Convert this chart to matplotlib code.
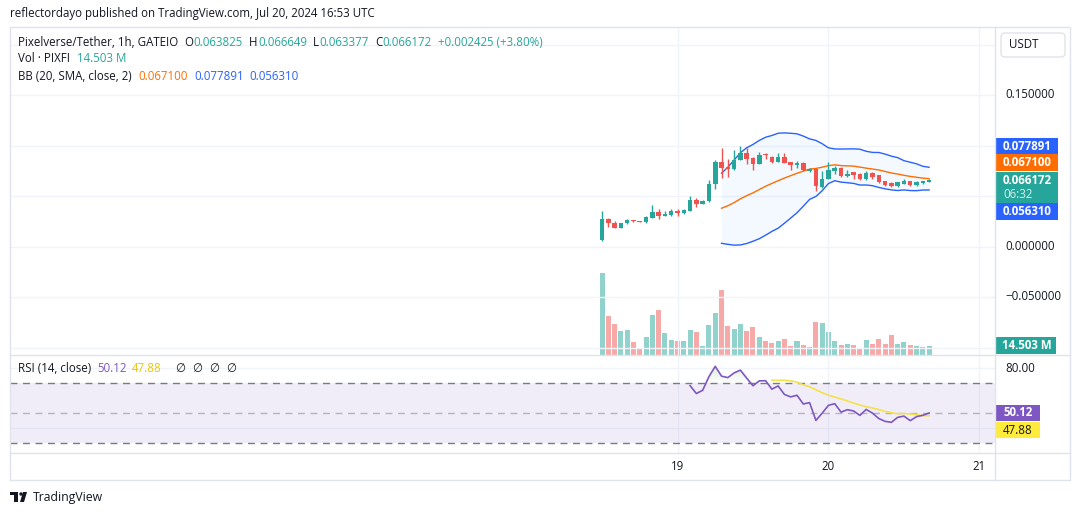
import numpy as np
import pandas as pd
import matplotlib
matplotlib.use("Agg")
import matplotlib.pyplot as plt
from matplotlib.patches import Rectangle, FancyBboxPatch, Polygon, Circle
from matplotlib.colors import LinearSegmentedColormap

# ---------------- data ----------------
times = pd.date_range("2024-07-18 12:00", periods=53, freq="h")
opens = [0.0060, 0.0274, 0.0232, 0.0188, 0.0228, 0.0264, 0.0254, 0.0238, 0.0284, 0.0344,
         0.0304, 0.0314, 0.0354, 0.0334, 0.0354, 0.0463, 0.0423, 0.0446, 0.0615, 0.0841,
         0.0791, 0.0764, 0.0854, 0.0923, 0.0881, 0.0814, 0.0911, 0.0891, 0.0841, 0.0891,
         0.0834, 0.0804, 0.0824, 0.0749, 0.0768, 0.0589, 0.0669, 0.0749, 0.0781, 0.0695,
         0.0735, 0.0715, 0.0665, 0.0725, 0.0705, 0.0645, 0.0629, 0.0595, 0.0622, 0.0645,
         0.0605, 0.0625, 0.063825]
highs = [0.0354, 0.0287, 0.0251, 0.0237, 0.0274, 0.0266, 0.0256, 0.0304, 0.0414, 0.0374,
         0.0354, 0.0374, 0.0374, 0.0374, 0.0503, 0.0483, 0.0463, 0.0662, 0.0858, 0.0980,
         0.0868, 0.0960, 0.0993, 0.0973, 0.0891, 0.0937, 0.0927, 0.0893, 0.0927, 0.0927,
         0.0836, 0.0851, 0.0834, 0.0778, 0.0770, 0.0745, 0.0841, 0.0794, 0.0791, 0.0761,
         0.0737, 0.0725, 0.0745, 0.0735, 0.0712, 0.0647, 0.0635, 0.0637, 0.0669, 0.0647,
         0.0645, 0.0647, 0.066649]
lows = [0.0058, 0.0195, 0.0186, 0.0186, 0.0226, 0.0246, 0.0243, 0.0236, 0.0282, 0.0277,
        0.0302, 0.0304, 0.0304, 0.0324, 0.0352, 0.0394, 0.0421, 0.0444, 0.0566, 0.0675,
        0.0685, 0.0754, 0.0852, 0.0818, 0.0754, 0.0812, 0.0868, 0.0828, 0.0839, 0.0822,
        0.0754, 0.0778, 0.0752, 0.0742, 0.0546, 0.0583, 0.0667, 0.0722, 0.0693, 0.0693,
        0.0669, 0.0663, 0.0663, 0.0669, 0.0633, 0.0603, 0.0593, 0.0593, 0.0620, 0.0603,
        0.0603, 0.0623, 0.063377]
closes = [0.0274, 0.0228, 0.0188, 0.0235, 0.0264, 0.0248, 0.0245, 0.0291, 0.0344, 0.0304,
          0.0324, 0.0354, 0.0334, 0.0364, 0.0463, 0.0423, 0.0453, 0.0622, 0.0841, 0.0774,
          0.0764, 0.0861, 0.0927, 0.0871, 0.0814, 0.0901, 0.0904, 0.0841, 0.0891, 0.0824,
          0.0804, 0.0824, 0.0754, 0.0768, 0.0595, 0.0669, 0.0761, 0.0781, 0.0695, 0.0722,
          0.0709, 0.0665, 0.0725, 0.0689, 0.0635, 0.0605, 0.0595, 0.0635, 0.0645, 0.0605,
          0.0635, 0.0645, 0.066172]
volumes_m = [128.3, 61.3, 48.8, 37.9, 39.5, 20.7, 9.8, 28.5, 62.8, 70.6,
             34.8, 23.9, 22.3, 22.3, 39.5, 36.3, 14.5, 47.3, 66.0, 101.8,
             45.7, 41.0, 48.8, 37.9, 44.1, 28.5, 22.3, 19.2, 22.3, 25.4,
             14.5, 22.3, 16.1, 12.9, 51.9, 50.4, 36.3, 22.3, 16.1, 17.6,
             16.1, 11.4, 23.9, 17.6, 25.4, 17.6, 31.7, 17.6, 20.7, 16.1,
             14.5, 12.9, 14.503]
price_ticks = [0.15, 0.0, -0.05]
day_ticks = ["2024-07-19", "2024-07-20", "2024-07-21"]
day_labels = ["19", "20", "21"]
# last values as printed by the chart's legend / price scale
bb_last = ["0.067100", "0.077891", "0.056310"]     # basis, upper, lower
rsi_last = ["50.12", "47.88"]                      # RSI, RSI-MA
vol_last = "14.503 M"
ohlc_last = ["0.063825", "0.066649", "0.063377", "0.066172"]
change_last = "+0.002425 (+3.80%)"

# ---------------- indicators ----------------
o = np.array(opens); h = np.array(highs); l = np.array(lows); c = np.array(closes)
vol = np.array(volumes_m)
cs = pd.Series(c)
basis = cs.rolling(20).mean()
sd = cs.rolling(20).std(ddof=0)
upper = basis + 2 * sd
lower = basis - 2 * sd

delta = np.diff(c, prepend=np.nan)
gain = np.where(delta > 0, delta, 0.0)
loss = np.where(delta < 0, -delta, 0.0)
n = 14
rsi = np.full(len(c), np.nan)
ag = al = None
for i in range(1, len(c)):
    if i == n:
        ag = gain[1:n + 1].mean(); al = loss[1:n + 1].mean()
    elif i > n:
        ag = (ag * (n - 1) + gain[i]) / n
        al = (al * (n - 1) + loss[i]) / n
    if i >= n:
        rsi[i] = 100 if al == 0 else 100 - 100 / (1 + ag / al)
rsi_ma = pd.Series(rsi).rolling(14).mean().values

# x in hours from Jul 19 00:00
t0 = pd.Timestamp("2024-07-19")
x = np.array((times - t0) / pd.Timedelta("1h"), dtype=float)
xt = [(pd.Timestamp(d) - t0) / pd.Timedelta("1h") for d in day_ticks]

# ---------------- figure ----------------
W, H = 1080, 515
fig = plt.figure(figsize=(W / 100, H / 100), dpi=100)
fig.patch.set_facecolor("white")
FONT = ["Open Sans", "DejaVu Sans"]
TXT = "#131722"
UP, DN = "#26A69A", "#EF5350"
GRID = "#F0F3FA"


def fax(x0, y0, x1, y1):
    return [x0 / W, 1 - y1 / H, (x1 - x0) / W, (y1 - y0) / H]


px_per_h = 6.29
x_origin = 677.5
xl = ((10 - x_origin) / px_per_h, (995 - x_origin) / px_per_h)

# main pane
ax = fig.add_axes(fax(10, 27, 995, 355))
ppu = 1010.0
ax.set_ylim((246.5 - 355) / ppu, (246.5 - 27) / ppu)
ax.set_xlim(*xl)
axv = ax.twinx()
axv.set_ylim(0, 328 * 14.503 / 9.3)
axv.set_xlim(*xl)
axv.set_zorder(0)
ax.set_zorder(1)
ax.patch.set_alpha(0)

for gy in [0.2, 0.15, 0.1, 0.05, 0.0, -0.05, -0.1]:
    ax.axhline(gy, color=GRID, lw=1, zorder=0)
for t in xt:
    ax.axvline(t, color=GRID, lw=1, zorder=0)

vcol = np.where(c >= o, "#92D2CC", "#F7A9A7")
axv.bar(x, vol, width=0.8, color=vcol, zorder=1)

ccol = np.where(c >= o, UP, DN)
ax.vlines(x, l, h, colors=ccol, lw=1, zorder=3)
body_lo = np.minimum(o, c)
body_h = np.maximum(np.abs(c - o), 0.0009)
ax.bar(x, body_h, bottom=body_lo, width=0.72, color=ccol, zorder=4)

ax.fill_between(x, lower, upper, color="#2196F3", alpha=0.05, lw=0, zorder=2)
ax.plot(x, upper, color="#2962FF", lw=1, zorder=2)
ax.plot(x, lower, color="#2962FF", lw=1, zorder=2)
ax.plot(x, basis, color="#FF6D00", lw=1, zorder=2)

for a in (ax, axv):
    a.set_xticks([]); a.set_yticks([])
    for s in a.spines.values():
        s.set_visible(False)

# RSI pane
ar = fig.add_axes(fax(10, 355, 995, 453))
ar.set_xlim(*xl)
ar.set_ylim(30 - 10 / 1.5, 80 + 13 / 1.5)
ar.axhspan(30, 70, color="#7E57C2", alpha=0.1, lw=0)
for gy in [80, 40]:
    ar.axhline(gy, color=GRID, lw=1, zorder=0)
for t in xt:
    ar.axvline(t, color=GRID, lw=1, zorder=0)
ar.axhline(70, color="#787B86", lw=1, ls=(0, (5, 4)))
ar.axhline(30, color="#787B86", lw=1, ls=(0, (5, 4)))
ar.axhline(50, color="#787B86", lw=1, ls=(0, (5, 4)), alpha=0.5)
poly = ar.fill_between(x, rsi, 70, where=(rsi > 70), interpolate=True, color="none", lw=0)
grad = np.linspace(0, 1, 100).reshape(-1, 1)
cmap = LinearSegmentedColormap.from_list("g", [(0.30, 0.69, 0.31, 0.0), (0.30, 0.69, 0.31, 0.35)])
im = ar.imshow(grad, extent=[xl[0], xl[1], 70, 88.67], origin="lower", cmap=cmap,
               aspect="auto", zorder=1)
paths = poly.get_paths()
if len(paths):
    im.set_clip_path(paths[0], transform=ar.transData)
ar.plot(x, rsi, color="#7E57C2", lw=1.2, zorder=3)
ar.plot(x, rsi_ma, color="#F5E148", lw=1.2, zorder=2)
ar.set_xticks([]); ar.set_yticks([])
for s in ar.spines.values():
    s.set_visible(False)

# overlay in pixel coordinates
ov = fig.add_axes([0, 0, 1, 1])
ov.set_xlim(0, W); ov.set_ylim(H, 0); ov.axis("off")
ov.patch.set_alpha(0)
ov.set_zorder(10)
rend = fig.canvas.get_renderer()

BORD = "#E0E3EB"
ov.add_patch(Rectangle((10, 27), 1060, 453, fill=False, ec=BORD, lw=1))
ov.plot([10, 1070], [355, 355], color=BORD, lw=1)
ov.plot([10, 1070], [453, 453], color=BORD, lw=1)
ov.plot([995, 995], [27, 480], color=BORD, lw=1)


def T(xp, yp, s, color=TXT, size=8.3, weight="normal", ha="left"):
    return ov.text(xp, yp, s, color=color, fontsize=size, fontweight=weight, ha=ha,
                   va="center", family=FONT)


def chain(x0, yp, parts, size=8.3):
    """parts: list of (text, color, gap_after_px)"""
    xp = x0
    for s, col, gap in parts:
        t = T(xp, yp, s, col, size)
        xp = t.get_window_extent(renderer=rend).x1 + gap
    return xp


T(10, 14, "reflectordayo published on TradingView.com, Jul 20, 2024 16:53 UTC", size=8.3)

# legend lines
parts = [("Pixelverse/Tether, 1h, GATEIO", TXT, 6)]
for lab, val in zip("OHLC", ohlc_last):
    parts += [(lab, TXT, 0.5), (val, UP, 6)]
parts += [(change_last, UP, 0)]
chain(18, 42, parts)
chain(18, 59, [("Vol · PIXFI", TXT, 7), (vol_last, UP, 0)])
chain(18, 76, [("BB (20, SMA, close, 2)", TXT, 7), (bb_last[0], "#FF6D00", 6),
               (bb_last[1], "#2962FF", 6), (bb_last[2], "#2962FF", 0)])
xe = chain(18, 369, [("RSI (14, close)", TXT, 6), (rsi_last[0], "#7E57C2", 5),
                     (rsi_last[1], "#E6C800", 0)])
for xx in [175, 192, 209, 226]:
    T(max(xx, xe + 8 + (xx - 175)), 369, "∅", size=8.3)

# USDT box
ov.add_patch(FancyBboxPatch((1001, 33), 64, 24, boxstyle="round,pad=0,rounding_size=4",
                            fc="white", ec=BORD, lw=1))
T(1009, 45, "USDT", size=8.3)


def yprice(p):
    return 246.5 - p * ppu


for p in price_ticks:
    T(1005, yprice(p), f"{p:.6f}".replace("-", "\u2212"), size=8.3)
T(1005, 368, "80.00", size=8.3)


def box(y0, y1, fc, x1=1058):
    ov.add_patch(Rectangle((996, y0), x1 - 996, y1 - y0, fc=fc, ec="none"))


box(138, 154, "#2962FF"); T(1003, 146, bb_last[1], "white", 8.3, "bold")
box(154, 171, "#FF6D00"); T(1003, 162.5, bb_last[0], "white", 8.3, "bold")
box(172, 203, UP); T(1003, 180, ohlc_last[3], "white", 8.3, "bold")
T(1003, 195, "06:32", "#D6F0EC", 8.3)
box(203, 220, "#2962FF"); T(1003, 211.5, bb_last[2], "white", 8.3, "bold")
box(337, 354, UP, 1056); T(1002, 345.5, vol_last, "white", 8.3, "bold")
box(405, 421, "#7E57C2", 1040); T(1003, 413, rsi_last[0], "white", 8.3, "bold")
box(422, 438, "#FFEB3B", 1040); T(1003, 430, rsi_last[1], TXT, 8.3)

# time axis labels
for t, lab in zip(xt, day_labels):
    T(x_origin + t * px_per_h, 466, lab, size=8.3, ha="center")

# TradingView logo
ov.add_patch(Rectangle((10, 492), 8, 3, fc=TXT, ec="none"))
ov.add_patch(Rectangle((14, 492), 4, 10, fc=TXT, ec="none"))
ov.add_patch(Circle((21, 494), 1.7, fc=TXT, ec="none"))
ov.add_patch(Polygon([(23, 492), (27, 492), (24, 502), (20, 502)], fc=TXT, ec="none"))
T(33, 497, "TradingView", size=8.8)

fig.savefig("out.png", dpi=100, facecolor="white")
